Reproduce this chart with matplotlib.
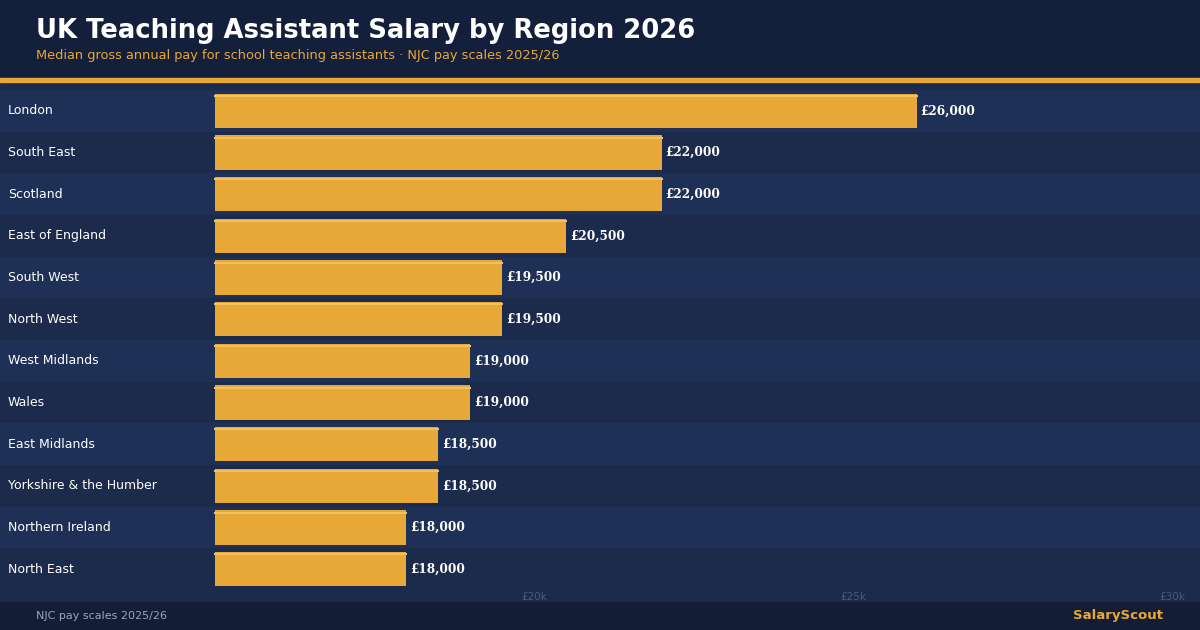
import matplotlib
matplotlib.use("Agg")
import matplotlib.pyplot as plt
from matplotlib.patches import Rectangle

regions = ["London","South East","Scotland","East of England","South West","North West",
           "West Midlands","Wales","East Midlands","Yorkshire & the Humber","Northern Ireland","North East"]
salaries = [26000,22000,22000,20500,19500,19500,19000,19000,18500,18500,18000,18000]
tick_vals = [20000,25000,30000]
tick_labels = ["£20k","£25k","£30k"]

W,H = 1200,630
fig = plt.figure(figsize=(W/100,H/100), dpi=100)
fig.patch.set_facecolor("#1c2a4b")
fig.add_artist(Rectangle((0,1-78/H),1,78/H,transform=fig.transFigure,color="#141f3b",zorder=0))
fig.add_artist(Rectangle((0,1-82/H),1,4/H,transform=fig.transFigure,color="#e8a838",zorder=0))
fig.add_artist(Rectangle((0,0),1,28/H,transform=fig.transFigure,color="#141d36",zorder=0))
fig.text(36/W,1-31/H,"UK Teaching Assistant Salary by Region 2026",color="white",fontsize=18.6,fontweight="bold",va="center")
fig.text(36/W,1-55/H,"Median gross annual pay for school teaching assistants · NJC pay scales 2025/26",color="#e8a838",fontsize=9.3,va="center")
fig.text(36/W,14/H,"NJC pay scales 2025/26",color="#9aa3b8",fontsize=8,va="center")
fig.text(1163/W,14/H,"SalaryScout",color="#e8a838",fontsize=9.5,fontweight="bold",va="center",ha="right")

ax = fig.add_axes([0,1-590/H,1,500/H])
ax.set_facecolor("none")
x0 = 15000
scale = 15000/957
ax.set_xlim(x0-215*scale, 30000+28*scale)
n = len(regions)
ax.set_ylim(n-0.5,-0.5)
for i,(r,v) in enumerate(zip(regions,salaries)):
    ax.axhspan(i-0.5,i+0.5,color="#1f3057" if i%2==0 else "#1c2a4b",zorder=0,lw=0)
    ax.barh(i,v-x0,left=x0,height=0.82,color="#e8a838",zorder=2)
    ax.plot([x0,v],[i-0.36,i-0.36],color="#f2c060",lw=1.5,zorder=3)
    ax.text(x0-207*scale,i,r,color="white",fontsize=9,va="center")
    ax.text(v+60,i,f"£{v:,}",color="white",fontsize=8.7,fontweight="bold",family="DejaVu Serif",va="center")
for t,l in zip(tick_vals,tick_labels):
    ax.text(t,n-0.5+0.18,l,color="#4d5a78",fontsize=7.5,ha="center",va="center")
ax.axis("off")
fig.savefig("out.png",dpi=100,facecolor=fig.get_facecolor())
